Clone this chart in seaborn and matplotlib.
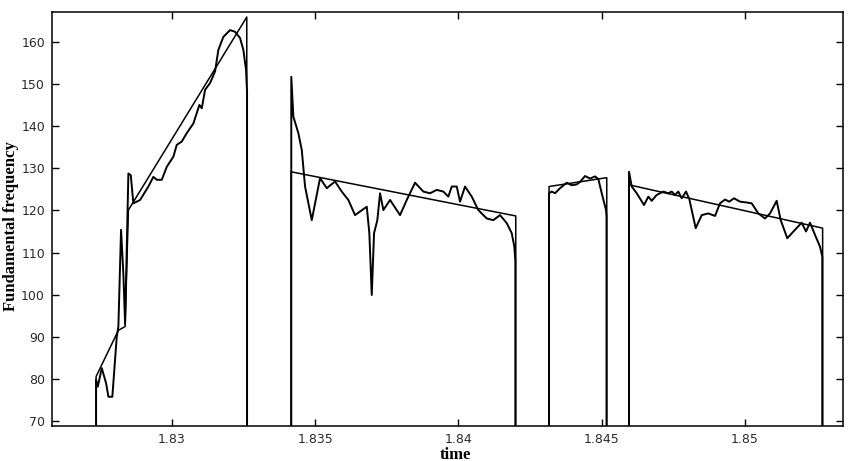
import numpy as np
import pandas as pd
import matplotlib
matplotlib.use("Agg")
import matplotlib.pyplot as plt
import seaborn as sns

# ---- data ----
# raw pitch track, four voiced segments
raw_t1 = [1.827359, 1.827418, 1.827558, 1.827708, 1.827789, 1.827926, 1.828080, 1.828137,
          1.828230, 1.828310, 1.828371, 1.828486, 1.828569, 1.828660, 1.828894, 1.829184,
          1.829358, 1.829477, 1.829651, 1.829826, 1.830056, 1.830174, 1.830349, 1.830523,
          1.830754, 1.830963, 1.831047, 1.831162, 1.831336, 1.831511, 1.831626, 1.831800,
          1.832034, 1.832209, 1.832383, 1.832498, 1.832592, 1.832627]
raw_f1 = [79.7, 78.1, 82.5, 78.9, 75.7, 75.7, 90.0, 92.4,
          115.4, 105.1, 93.0, 128.8, 128.4, 121.7, 122.5, 125.7,
          128.0, 127.3, 127.3, 130.4, 132.8, 135.6, 136.4, 138.4,
          140.7, 145.1, 144.3, 148.7, 150.3, 153.1, 158.2, 161.3,
          162.9, 162.5, 161.0, 158.2, 153.4, 148.0]

raw_t2 = [1.834170, 1.834243, 1.834417, 1.834536, 1.834651, 1.834885, 1.835174, 1.835408,
          1.835698, 1.835931, 1.836162, 1.836395, 1.836804, 1.836894, 1.836978, 1.837058,
          1.837173, 1.837268, 1.837383, 1.837617, 1.837965, 1.838199, 1.838489, 1.838778,
          1.839012, 1.839246, 1.839476, 1.839651, 1.839769, 1.839944, 1.840059, 1.840233,
          1.840467, 1.840697, 1.840990, 1.841221, 1.841454, 1.841688, 1.841863, 1.841953,
          1.841988]
raw_f2 = [151.8, 142.3, 138.4, 134.4, 125.7, 117.7, 127.7, 125.3,
          126.9, 124.5, 122.5, 118.9, 120.9, 114.6, 99.9, 114.6,
          117.7, 124.1, 120.1, 122.5, 118.9, 122.5, 126.6, 124.5,
          124.1, 124.9, 124.5, 123.3, 125.7, 125.7, 122.1, 125.7,
          123.3, 120.1, 118.1, 117.7, 118.9, 117.0, 114.6, 111.4,
          108.0]

raw_t3 = [1.843164, 1.843258, 1.843373, 1.843548, 1.843782, 1.843956, 1.844130, 1.844246,
          1.844420, 1.844595, 1.844769, 1.844884, 1.845003, 1.845153, 1.845170]
raw_f3 = [124.1, 124.5, 124.1, 125.3, 126.6, 126.0, 126.2, 126.8,
          128.2, 127.6, 128.1, 127.5, 124.1, 120.1, 118.5]

raw_t4 = [1.845955, 1.846049, 1.846224, 1.846479, 1.846629, 1.846747, 1.846922, 1.847152,
          1.847326, 1.847445, 1.847560, 1.847675, 1.847794, 1.847944, 1.848059, 1.848282,
          1.848492, 1.848722, 1.848956, 1.849130, 1.849305, 1.849455, 1.849619, 1.849828,
          1.850062, 1.850236, 1.850467, 1.850700, 1.850875, 1.851108, 1.851248, 1.851478,
          1.851747, 1.851981, 1.852131, 1.852270, 1.852445, 1.852619, 1.852700]
raw_f4 = [129.2, 125.7, 124.1, 121.3, 123.3, 122.3, 123.7, 124.5,
          124.1, 124.5, 123.7, 124.5, 122.9, 124.5, 122.7, 115.8,
          118.9, 119.3, 118.7, 121.7, 122.6, 122.1, 122.9, 122.1,
          121.9, 121.7, 119.3, 118.1, 119.3, 122.3, 117.7, 113.4,
          115.4, 117.1, 115.0, 117.1, 114.2, 111.4, 109.0]

# piecewise-linear fit
fit_t1 = [1.827359, 1.828137, 1.828371, 1.828486, 1.832617]
fit_f1 = [80.5, 91.5, 92.4, 120.1, 166.0]
fit_t2 = [1.834163, 1.842003]
fit_f2 = [129.2, 118.7]
fit_t3 = [1.843164, 1.845178]
fit_f3 = [125.7, 127.8]
fit_t4 = [1.845955, 1.852711]
fit_f4 = [126.1, 115.8]

x_ticks = [1.83, 1.835, 1.84, 1.845, 1.85]
x_tick_labels = ["1.83", "1.835", "1.84", "1.845", "1.85"]
y_ticks = [70, 80, 90, 100, 110, 120, 130, 140, 150, 160]


def voiced_track(segments):
    """Join voiced segments; unvoiced frames are 0 Hz."""
    ts, fs = [], []
    for t, f in segments:
        ts += [t[0]] + list(t) + [t[-1]]
        fs += [0.0] + list(f) + [0.0]
    return pd.DataFrame({"time": ts, "freq": fs})


raw_df = voiced_track([(raw_t1, raw_f1), (raw_t2, raw_f2), (raw_t3, raw_f3), (raw_t4, raw_f4)])
fit_df = voiced_track([(fit_t1, fit_f1), (fit_t2, fit_f2), (fit_t3, fit_f3), (fit_t4, fit_f4)])

sns.set_theme(style="white")
plt.rcParams["font.family"] = ["DejaVu Sans"]

fig = plt.figure(figsize=(8.55, 4.61), dpi=100)
ax = fig.add_axes([0.0608, 0.0759, 0.9251, 0.898])

sns.lineplot(data=raw_df, x="time", y="freq", sort=False, estimator=None,
             color="black", linewidth=1.4, ax=ax)
sns.lineplot(data=fit_df, x="time", y="freq", sort=False, estimator=None,
             color="black", linewidth=1.1, ax=ax)

ax.set_xlim(1.82582, 1.85342)
ax.set_ylim(68.74, 167.2)
ax.set_xticks(x_ticks)
ax.set_xticklabels(x_tick_labels)
ax.set_yticks(y_ticks)

ax.tick_params(axis="both", which="both", direction="in", length=5, width=1,
               color="black", labelsize=9, labelcolor="#2a2a2a",
               top=True, right=True, bottom=True, left=True, pad=5)

for s in ax.spines.values():
    s.set_color("black")
    s.set_linewidth(1.1)
    s.set_visible(True)

ax.set_xlabel("time", family=["Liberation Serif", "DejaVu Serif"], fontweight="bold",
              fontsize=12, color="black")
ax.xaxis.set_label_coords(0.51, -0.05)
ax.set_ylabel("Fundamental frequency", family=["Liberation Serif", "DejaVu Serif"],
              fontweight="bold", fontsize=12, color="black")
ax.yaxis.set_label_coords(-0.042, 0.483)

ax.grid(False)
fig.savefig("out.png", dpi=100, facecolor="white")
